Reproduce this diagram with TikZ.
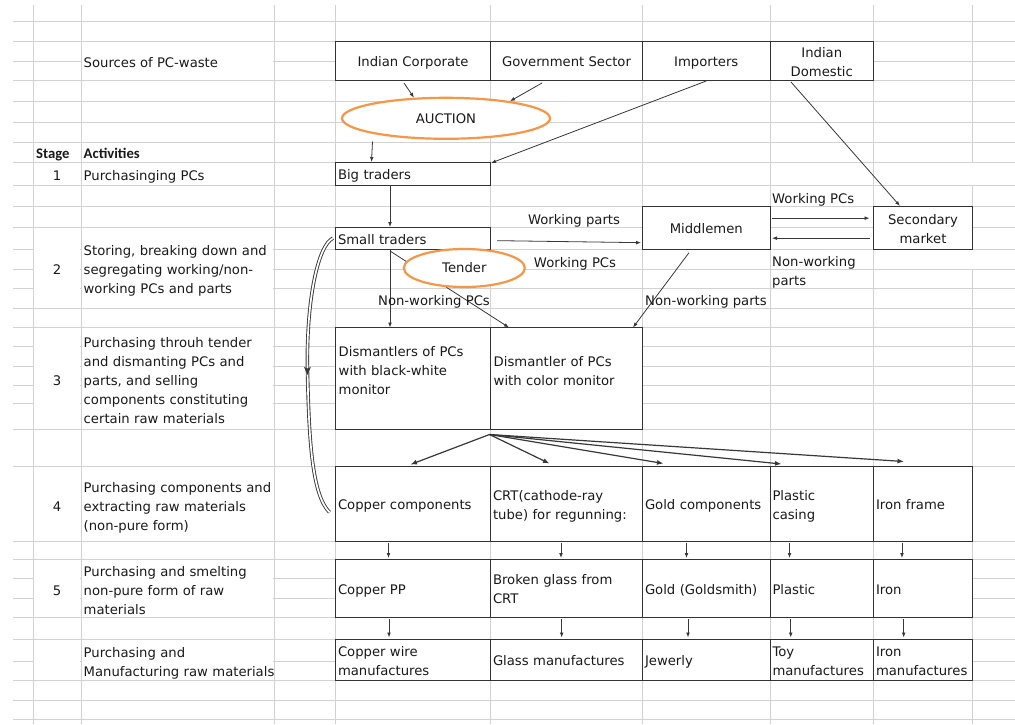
\documentclass[tikz,border=0pt]{standalone}
\usepackage{fontspec}
\setmainfont{DejaVu Sans}
\newfontfamily\headfont{Carlito}
\usetikzlibrary{shapes.geometric,arrows.meta,decorations.markings}
\definecolor{gridgray}{HTML}{D2D2D2}
\definecolor{boxline}{HTML}{333333}
\definecolor{ink}{HTML}{1A1A1A}
\definecolor{wire}{HTML}{383838}
\definecolor{ovalorange}{HTML}{F79646}
\newcommand\bodyfont{\fontsize{13.2pt}{19pt}\selectfont}
\newcommand\headerfont{\headfont\bfseries\fontsize{14.7pt}{17pt}\selectfont}

\begin{document}
\begin{tikzpicture}[x=1pt,y=-1pt,
  % uniform line box so that every text sits at the same height in its cell
  evenline/.style={execute at begin node={\rule{0pt}{15.5pt}},
                   execute at end node={\rule[-3.5pt]{0pt}{0pt}}},
  gridline/.style={draw=gridgray,line width=0.8pt},
  bx/.style={draw=boxline,line width=0.9pt,fill=white,inner xsep=2.5pt,inner ysep=0pt,
    outer sep=0pt,anchor=north west,font=\bodyfont,text=ink,evenline},
  lbl/.style={inner sep=0pt,font=\bodyfont,text=ink,align=left,evenline},
  oval/.style={ellipse,draw=ovalorange,line width=2.2pt,fill=white,inner sep=0pt,
    outer sep=0pt,font=\bodyfont,text=ink},
  conn/.style={draw=wire,line width=0.8pt,-{Latex[length=5pt,width=3.8pt]}},
  fanarrow/.style={draw=wire,line width=1.2pt,-{Latex[length=6.5pt,width=5pt]}},
  hollow/.style={draw=wire,line width=0.9pt,double=white,double distance=1.7pt},
]
% page
\fill[white] (0,0) rectangle (1015,724);
\useasboundingbox (0,0) rectangle (1015,724);

% spreadsheet grid
\foreach \y in {21,41,61,80.5,101,122,142,162,185.5,206,227,249.3,269,288.5,308,327.5,
                346.7,366,385,403.5,429,466,541.5,559,578.5,598,617.5,639,661,680.5,700,719}
  \draw[gridline] (13,\y) -- (1015,\y);
\foreach \x in {33,81,274,335.5,490.5,642.5,770,873.5}
  \draw[gridline] (\x,5) -- (\x,724);
\draw[gridline] (972.5,5) -- (972.5,162);
\draw[gridline] (972.5,185.5) -- (972.5,249.3);
\draw[gridline] (972.5,269) -- (972.5,724);

% merged cells of the stage / activity columns
\fill[white] (81.6,41.6) rectangle (273.4,79.9);
\foreach \ya/\yb in {227/308,327.5/429,559/617.5,639/680.5} {
  \fill[white] (33.6,\ya+0.6) rectangle (80.4,\yb-0.6);
  \fill[white] (81.6,\ya+0.6) rectangle (273.4,\yb-0.6);
}

% left-hand columns
\node[lbl,anchor=west] (src) at (83.5,61) {Sources of PC-waste};
\node[lbl,anchor=west,font=\headerfont] (stagehd) at (36,152) {Stage};
\node[lbl,anchor=west,font=\headerfont] (acthd) at (83.5,152) {Activities};
\node[lbl] (s1) at (57,174) {1};
\node[lbl,anchor=west] (a1) at (83.5,174) {Purchasinging PCs};
\node[lbl] (s2) at (57,268) {2};
\node[lbl,anchor=west,text width=200pt] (a2) at (83.5,268) {Storing, breaking down and\\segregating working/non-\\working PCs and parts};
\node[lbl] (s3) at (57,379) {3};
\node[lbl,anchor=west,text width=200pt] (a3) at (83.5,379) {Purchasing throuh tender\\and dismanting PCs and\\parts, and selling\\components constituting\\certain raw materials};
\node[lbl] (s4) at (57,505) {4};
\node[lbl,anchor=west,text width=200pt] (a4) at (83.5,505) {Purchasing components and\\extracting raw materials\\(non-pure form)};
\node[lbl] (s5) at (57,589) {5};
\node[lbl,anchor=west,text width=200pt] (a5) at (83.5,589) {Purchasing and smelting\\non-pure form of raw\\materials};
\node[lbl,anchor=west,text width=200pt] (a6) at (83.5,661) {Purchasing and\\Manufacturing raw materials};

% sources
\node[bx,minimum width=155pt,minimum height=39.5pt,align=center] (corp) at (335.5,41) {Indian Corporate};
\node[bx,minimum width=152pt,minimum height=39.5pt,align=center] (gov) at (490.5,41) {Government Sector};
\node[bx,minimum width=127.5pt,minimum height=39.5pt,align=center] (imp) at (642.5,41) {Importers};
\node[bx,minimum width=103.5pt,minimum height=39.5pt,text width=98.5pt,align=center] (dom) at (770,41) {Indian\\Domestic};

% traders and markets
\node[bx,minimum width=155pt,minimum height=23.5pt,text width=150pt,align=left] (big) at (335.5,162) {Big traders};
\node[bx,minimum width=155pt,minimum height=22.3pt,text width=150pt,align=left] (small) at (335.5,227) {Small traders};
\node[bx,minimum width=127.5pt,minimum height=43.3pt,align=center] (mid) at (642.5,206) {Middlemen};
\node[bx,minimum width=99pt,minimum height=43.3pt,text width=94pt,align=center] (sec) at (873.5,206) {Secondary\\market};

% dismantlers
\node[bx,minimum width=155pt,minimum height=101.5pt] (bw) at (335.5,327.5) {};
\node[bx,minimum width=152pt,minimum height=101.5pt] (col) at (490.5,327.5) {};
\node[lbl,anchor=west,text width=150pt] (bwtext) at (338.5,369) {Dismantlers of PCs\\with black-white\\monitor};
\node[lbl,anchor=west,text width=147pt] (coltext) at (493.5,369.5) {Dismantler of PCs\\with color monitor};

% components
\node[bx,minimum width=155pt,minimum height=75.5pt,text width=150pt,align=left] (c1) at (335.5,466) {Copper components};
\node[bx,minimum width=152pt,minimum height=75.5pt,text width=147pt,align=left] (c2) at (490.5,466) {CRT(cathode-ray\\tube) for regunning:};
\node[bx,minimum width=127.5pt,minimum height=75.5pt,text width=122.5pt,align=left] (c3) at (642.5,466) {Gold components};
\node[bx,minimum width=103.5pt,minimum height=75.5pt,text width=98.5pt,align=left] (c4) at (770,466) {Plastic\\casing};
\node[bx,minimum width=99pt,minimum height=75.5pt,text width=94pt,align=left] (c5) at (873.5,466) {Iron frame};

% smelted materials
\node[bx,minimum width=155pt,minimum height=58.5pt,text width=150pt,align=left] (d1) at (335.5,559) {Copper PP};
\node[bx,minimum width=152pt,minimum height=58.5pt,text width=147pt,align=left] (d2) at (490.5,559) {Broken glass from\\CRT};
\node[bx,minimum width=127.5pt,minimum height=58.5pt,text width=122.5pt,align=left] (d3) at (642.5,559) {Gold (Goldsmith)};
\node[bx,minimum width=103.5pt,minimum height=58.5pt,text width=98.5pt,align=left] (d4) at (770,559) {Plastic};
\node[bx,minimum width=99pt,minimum height=58.5pt,text width=94pt,align=left] (d5) at (873.5,559) {Iron};

% manufacturers
\node[bx,minimum width=155pt,minimum height=41.5pt,text width=150pt,align=left] (e1) at (335.5,639) {Copper wire\\manufactures};
\node[bx,minimum width=152pt,minimum height=41.5pt,text width=147pt,align=left] (e2) at (490.5,639) {Glass manufactures};
\node[bx,minimum width=127.5pt,minimum height=41.5pt,text width=122.5pt,align=left] (e3) at (642.5,639) {Jewerly};
\node[bx,minimum width=103.5pt,minimum height=41.5pt,text width=98.5pt,align=left] (e4) at (770,639) {Toy\\manufactures};
\node[bx,minimum width=99pt,minimum height=41.5pt,text width=94pt,align=left] (e5) at (873.5,639) {Iron\\manufactures};

% auction
\node[oval,minimum width=208pt,minimum height=41pt] (auc) at (446,118.3) {AUCTION};
\draw[conn] ([shift={(-9,2.5)}]corp.south) -- ([shift={(-32,-20.6)}]auc.center);
\draw[conn] ([shift={(-24.5,2.5)}]gov.south) -- ([shift={(64,-17.1)}]auc.center);
\draw[conn] ([shift={(0,0.5)}]imp.south) -- ([shift={(0.5,1)}]big.north east);
\draw[conn] ([shift={(-30.75,1.5)}]dom.south) -- ([shift={(-23,0)}]sec.north);
\draw[conn] ([shift={(-73.5,23.2)}]auc.center) -- ([shift={(-41.5,0)}]big.north);
\draw[conn] ([shift={(-23,0)}]big.south) -- ([shift={(-23,0)}]small.north);

% trade between small traders, middlemen and secondary market
\draw[conn] ([shift={(6.5,2.5)}]small.east) -- ([shift={(-1.5,15)}]mid.west);
\draw[conn] ([shift={(1.5,-9.5)}]mid.east) -- ([shift={(-4,-9.5)}]sec.west);
\draw[conn] ([shift={(-4,10.5)}]sec.west) -- ([shift={(2,10.5)}]mid.east);
\draw[conn] ([shift={(-17.25,3.4)}]mid.south) -- ([shift={(-9.5,0)}]col.north east);
\draw[conn] ([shift={(-23,0.7)}]small.south) -- ([shift={(-23,0)}]bw.north);
\draw[conn] ([shift={(-23,1.7)}]small.south) -- ([shift={(18.5,0)}]col.north west);
\node[oval,minimum width=121pt,minimum height=38pt] (ten) at (464.3,268) {Tender};

\node[lbl] (wparts) at (574,218) {Working parts};
\node[lbl] (wpcsa) at (575,261) {Working PCs};
\node[lbl,anchor=west] (wpcsb) at (772,197) {Working PCs};
\node[lbl,anchor=west,text width=95pt] (nwpartsa) at (772,270) {Non-working\\parts};
\node[lbl,anchor=west] (nwpartsb) at (645,299) {Non-working parts};
\node[lbl] (nwpcs) at (434,299) {Non-working PCs};

% hollow bypass from small traders down to copper components
\draw[hollow] ([shift={(-2.5,0)}]small.west) .. controls (318,245) and (306,300) .. (307.5,372)
  .. controls (309,440) and (312,495) .. ([shift={(-6,8.5)}]c1.west);
\path[decorate,decoration={markings,mark=at position 0.49 with {\fill[wire] (3.5,0) -- (-4.5,3.4) -- (-3,0) -- (-4.5,-3.4) -- cycle;}}]
  ([shift={(-2.5,0)}]small.west) .. controls (318,245) and (306,300) .. (307.5,372)
  .. controls (309,440) and (312,495) .. ([shift={(-6,8.5)}]c1.west);

% dismantled parts fan out to the component buyers
\coordinate (apex) at ([shift={(-1,5.5)}]bw.south east);
\foreach \n/\dx/\dy in {c1/-2.5/-1.5, c2/-17/-2.5, c3/-42.75/-2.5, c4/-40.25/-2, c5/-19/-4.5}
  \draw[fanarrow] (apex) -- ([shift={(\dx,\dy)}]\n.north);

% downstream flows
\foreach \a/\b/\dx in {c1/d1/-24.5, c2/d2/-5.5, c3/d3/-19.75, c4/d4/-32.25, c5/d5/-21}
  \draw[conn] ([shift={(\dx,1.5)}]\a.south) -- ([shift={(\dx,-1)}]\b.north);
\foreach \a/\b/\dx in {d1/e1/-24, d2/e2/-4.8, d3/e3/-18.25, d4/e4/-31, d5/e5/-19.3}
  \draw[conn] ([shift={(\dx,1.5)}]\a.south) -- ([shift={(\dx,-1.5)}]\b.north);
\end{tikzpicture}
\end{document}
